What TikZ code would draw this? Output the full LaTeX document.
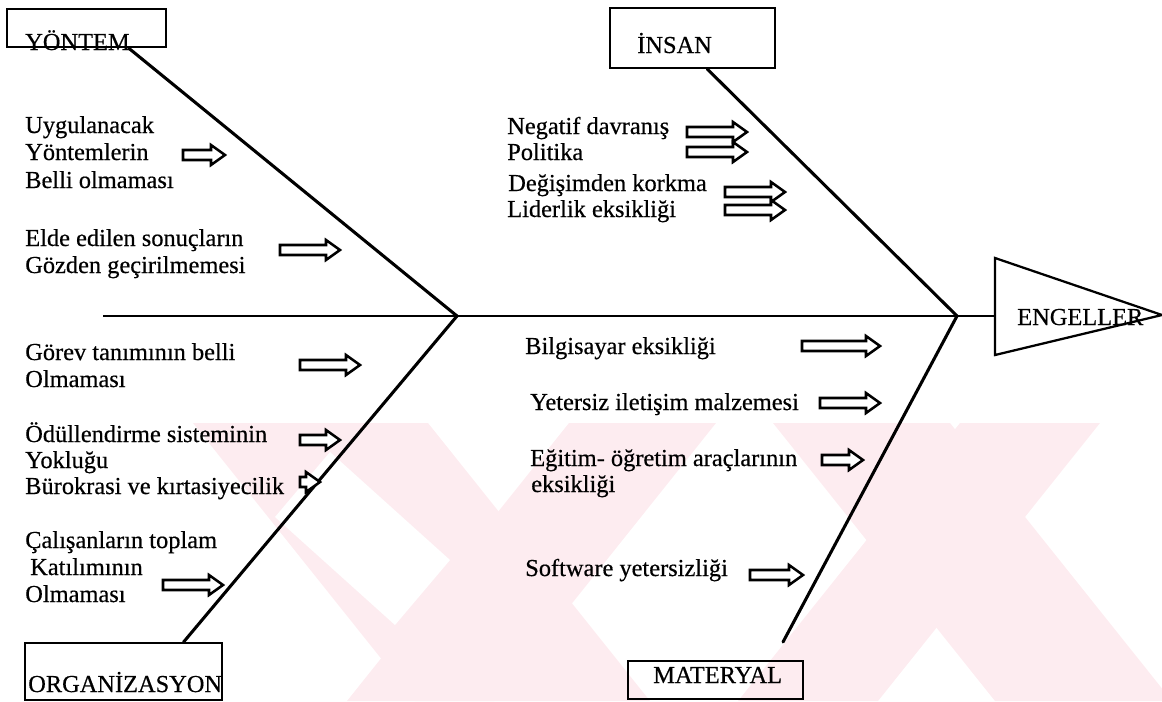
\documentclass[tikz,border=0pt]{standalone}
\usepackage{fontspec}
\setmainfont{Liberation Serif}[FakeBold=0.5]
\usetikzlibrary{fit,calc}
\definecolor{wmpink}{RGB}{253,236,240}
\tikzset{
  lbl/.style={anchor=base west, inner sep=0pt, font=\fontsize{18.3}{20}\selectfont},
  frame/.style={draw, line width=1.5pt, inner sep=0pt},
  bone/.style={line width=2.3pt, line cap=round},
  spine/.style={line width=1.9pt},
  fatarrow/.style={draw, line width=1.9pt, fill=white, line join=miter},
}
% hollow block arrow: left x, right x, centre y
\newcommand\fatarr[3]{%
  \draw[fatarrow] ({#1},{#3-5}) -- ({#2-14},{#3-5}) -- ({#2-14},{#3-10}) -- ({#2},{#3})
    -- ({#2-14},{#3+10}) -- ({#2-14},{#3+5}) -- ({#1},{#3+5}) -- cycle;}
\begin{document}
\begin{tikzpicture}[x=0.75pt,y=-0.75pt]
\useasboundingbox (0,0) rectangle (1162,701);

% faint background pattern in the lower part
\begin{scope}
  \clip (0,423) rectangle (1162,701);
  \fill[wmpink] (193,423) -- (428,423) -- (650,701) -- (415,701) -- cycle;
  \fill[wmpink] (569,423) -- (716,423) -- (494,701) -- (347,701) -- cycle;
  \fill[wmpink] (773,423) -- (950,423) -- (1172,701) -- (995,701) -- cycle;
  \fill[wmpink] (960,423) -- (1100,423) -- (878,701) -- (738,701) -- cycle;
  \fill[white] (330,452) -- (450,560) -- (395,625) -- (275,517) -- cycle;
\end{scope}

% category boxes
\node[frame, fit={(7,9) (166,47)}] (yontem) {};
\node[frame, fit={(610,8) (775,68)}] (insan) {};
\node[frame, fit={(25,643) (222,700)}] (organ) {};
\node[frame, fit={(628,661) (803,699)}] (mater) {};
\node[lbl] (yontemt) at (25,50) {YÖNTEM};
\node[lbl] (insant) at (637,53) {İNSAN};
\node[lbl] (organt) at (28,692) {ORGANİZASYON};
\node[lbl] (matert) at (653,683) {MATERYAL};

% head of the fish
\coordinate (tri) at (995,316);
\draw[line width=1.7pt, line join=miter] (995,258) -- (995,355) -- (1162,315) -- cycle;
\node[lbl] (engel) at (1017,325) {ENGELLER};

% spine and bones
\coordinate (s0) at (103,316);
\coordinate (j1) at (457,316);
\coordinate (j2) at (957,316);
\coordinate (mb) at (783,642);
\draw[spine] (s0) -- (j1) -- (j2) -- (tri);
\draw[bone] ($(yontem.south west)!0.761!(yontem.south east)$) -- (j1);
\draw[bone] ($(organ.north west)!0.802!(organ.north east)$) -- (j1);
\draw[bone] ($(insan.south west)!0.588!(insan.south east)$) -- (j2);
\draw[bone] (mb) -- (j2);

% causes: method
\node[lbl] (c1a) at (25,133) {Uygulanacak};
\node[lbl] (c1b) at (25,160) {Yöntemlerin};
\node[lbl] (c1c) at (25,188) {Belli olmaması};
\node[lbl] (c2a) at (25,246) {Elde edilen sonuçların};
\node[lbl] (c2b) at (25,273) {Gözden geçirilmemesi};
\fatarr{183}{225}{155}
\fatarr{280}{340}{250}

% causes: organisation
\node[lbl] (c3a) at (25,360) {Görev tanımının belli};
\node[lbl] (c3b) at (25,387) {Olmaması};
\node[lbl] (c4a) at (25,442) {Ödüllendirme sisteminin};
\node[lbl] (c4b) at (25,468) {Yokluğu};
\node[lbl] (c4c) at (25,494) {Bürokrasi ve kırtasiyecilik};
\node[lbl] (c5a) at (25,548) {Çalışanların toplam};
\node[lbl] (c5b) at (30,575) {Katılımının};
\node[lbl] (c5c) at (25,602) {Olmaması};
\fatarr{300}{360}{365}
\fatarr{300}{340}{440}
\fatarr{300}{320}{482}
\fatarr{163}{223}{585}

% causes: people
\node[lbl] (c6a) at (507,134) {Negatif davranış};
\node[lbl] (c6b) at (507,160) {Politika};
\node[lbl] (c7a) at (508,191) {Değişimden korkma};
\node[lbl] (c7b) at (507,217) {Liderlik eksikliği};
\fatarr{687}{747}{132}
\fatarr{687}{747}{152}
\fatarr{725}{785}{192}
\fatarr{725}{785}{210}

% causes: material
\node[lbl] (c8) at (525,354) {Bilgisayar eksikliği};
\node[lbl] (c9) at (530,410) {Yetersiz iletişim malzemesi};
\node[lbl] (c10a) at (530,466) {Eğitim- öğretim araçlarının};
\node[lbl] (c10b) at (531,492) {eksikliği};
\node[lbl] (c11) at (525,576) {Software yetersizliği};
\fatarr{802}{880}{346}
\fatarr{820}{880}{403}
\fatarr{822}{863}{460}
\fatarr{750}{803}{575}
\end{tikzpicture}
\end{document}
